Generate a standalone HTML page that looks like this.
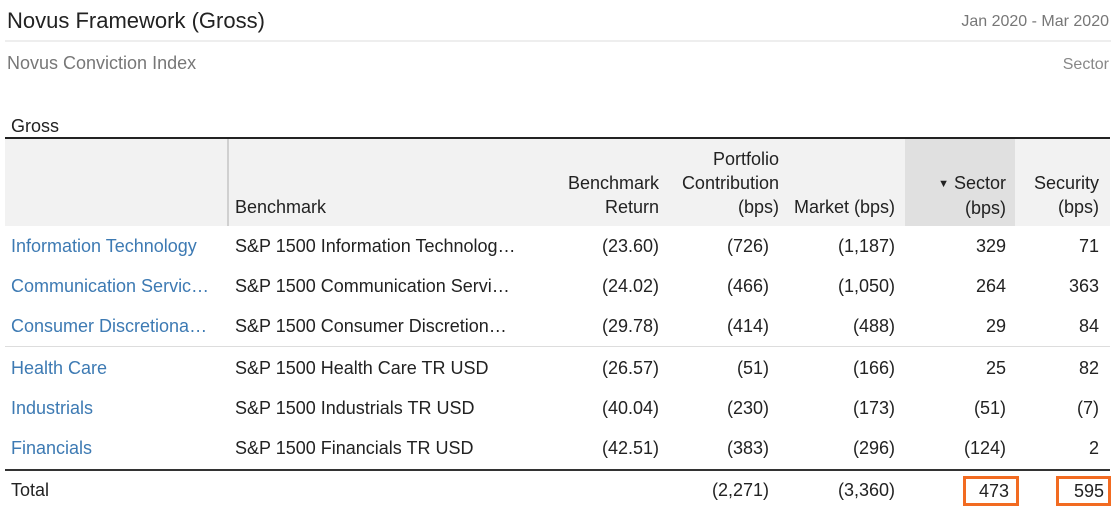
<!DOCTYPE html>
<html><head><meta charset="utf-8"><style>
body{margin:0;width:1119px;height:515px;background:#fff;font-family:"Liberation Sans",sans-serif;overflow:hidden;position:relative}
.a{position:absolute;white-space:nowrap}
.r{text-align:right}
.t{font-size:18px;color:#222;line-height:20px}
.h{line-height:24px}
.l{color:#3d7ab3}
</style></head><body>
<div class="a" style="left:7px;top:8px;font-size:22px;color:#222">Novus Framework (Gross)</div>
<div class="a" style="right:10px;top:13px;font-size:16px;color:#777">Jan 2020 - Mar 2020</div>
<div class="a" style="left:5px;right:8px;top:40px;height:2px;background:#eee"></div>
<div class="a" style="left:7px;top:53px;font-size:18px;color:#777">Novus Conviction Index</div>
<div class="a" style="right:10px;top:56px;font-size:16px;color:#888">Sector</div>
<div class="a t" style="left:11px;top:116px">Gross</div>
<div class="a" style="left:5px;width:1105px;top:137px;height:2px;background:#222"></div>
<div class="a" style="left:5px;width:1105px;top:139px;height:87px;background:#f2f2f2"></div>
<div class="a" style="left:905px;width:110px;top:139px;height:87px;background:#e0e0e0"></div>
<div class="a" style="left:227px;width:2px;top:139px;height:87px;background:#d0d0d0"></div>
<div class="a t h" style="left:235px;top:195px">Benchmark</div>
<div class="a t r h" style="right:460px;top:171px">Benchmark<br>Return</div>
<div class="a t r h" style="right:340px;top:147px">Portfolio<br>Contribution<br>(bps)</div>
<div class="a t r h" style="right:224px;top:195px">Market (bps)</div>
<div class="a t r h" style="right:113px;top:171px"><span style="font-size:11px;vertical-align:2px">▼</span> Sector<br>(bps)</div>
<div class="a t r h" style="right:20px;top:171px">Security<br>(bps)</div>
<div id="rows"></div>
<div class="a" style="left:5px;width:1105px;top:346px;height:1px;background:#ddd"></div>
<div class="a" style="left:5px;width:1105px;top:469px;height:2px;background:#333"></div>
<div class="a t" style="left:11px;top:480px">Total</div>
<div class="a t r" style="right:350px;top:480px">(2,271)</div>
<div class="a t r" style="right:224px;top:480px">(3,360)</div>
<div class="a t r" style="left:963px;width:40px;top:476px;height:22px;padding:1px 7px 1px 3px;border:3px solid #f26b21;line-height:22px">473</div>
<div class="a t r" style="left:1056px;width:42px;top:476px;height:22px;padding:1px 4px 1px 3px;border:3px solid #f26b21;line-height:22px">595</div>
<script>
const sectors=["Information Technology","Communication Servic…","Consumer Discretiona…","Health Care","Industrials","Financials"];
const benchmarks=["S&P 1500 Information Technolog…","S&P 1500 Communication Servi…","S&P 1500 Consumer Discretion…","S&P 1500 Health Care TR USD","S&P 1500 Industrials TR USD","S&P 1500 Financials TR USD"];
const benchReturn=["(23.60)","(24.02)","(29.78)","(26.57)","(40.04)","(42.51)"];
const contribution=["(726)","(466)","(414)","(51)","(230)","(383)"];
const market=["(1,187)","(1,050)","(488)","(166)","(173)","(296)"];
const sector=["329","264","29","25","(51)","(124)"];
const security=["71","363","84","82","(7)","2"];
const tops=[236,276,316,358,398,438];
const box=document.getElementById('rows');
function cell(txt,style,cls,name,inter){
  const d=document.createElement('div');
  d.className='a t '+cls;
  d.setAttribute('style',style);
  d.textContent=txt;
  
  
  box.appendChild(d);
}
sectors.forEach((s,i)=>{
  const y=tops[i];
  cell(s,'left:11px;top:'+y+'px','l','sector-link','true');
  cell(benchmarks[i],'left:235px;top:'+y+'px','','benchmark-name','false');
  cell(benchReturn[i],'right:460px;top:'+y+'px','r','benchmark-return','false');
  cell(contribution[i],'right:350px;top:'+y+'px','r','portfolio-contribution','false');
  cell(market[i],'right:224px;top:'+y+'px','r','market-bps','false');
  cell(sector[i],'right:113px;top:'+y+'px','r','sector-bps','false');
  cell(security[i],'right:20px;top:'+y+'px','r','security-bps','false');
});
</script>
</body></html>
